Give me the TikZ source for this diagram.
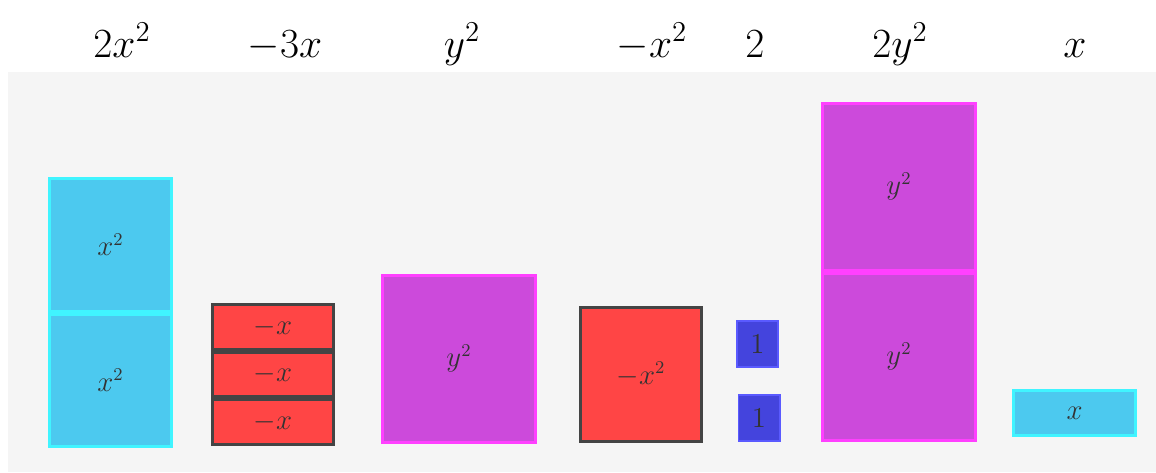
\documentclass[tikz,border=0pt]{standalone}
\usepackage{amsmath}
\usepackage{tikz}
\usetikzlibrary{positioning}

\definecolor{panelgray}{HTML}{F5F5F5}
\definecolor{posfill}{HTML}{4CC9EF}
\definecolor{posline}{HTML}{40F4FF}
\definecolor{negfill}{HTML}{FF4545}
\definecolor{negline}{HTML}{444444}
\definecolor{yfill}{HTML}{CC4ADB}
\definecolor{yline}{HTML}{FF40FF}
\definecolor{onefill}{HTML}{4444DD}
\definecolor{oneline}{HTML}{5A5AFF}
\definecolor{tiletext}{HTML}{333333}

\begin{document}
\begin{tikzpicture}[x=0.5pt, y=-0.5pt,
  tile/.style={draw,line width=1.5pt,inner sep=0pt,text=tiletext,
    font=\fontsize{13.5}{14}\selectfont},
  xsq/.style={tile,fill=posfill,draw=posline,minimum width=61pt,minimum height=66.25pt},
  negx/.style={tile,fill=negfill,draw=negline,minimum width=60.5pt,minimum height=22.3pt},
  ysq/.style={tile,fill=yfill,draw=yline,minimum width=76.5pt,minimum height=83.5pt},
  negxsq/.style={tile,fill=negfill,draw=negline,minimum width=60.5pt,minimum height=67pt},
  one/.style={tile,fill=onefill,draw=oneline,line width=0.8pt,minimum width=20.7pt,minimum height=23.2pt},
  xbar/.style={tile,fill=posfill,draw=posline,minimum width=61pt,minimum height=22.5pt},
  term/.style={anchor=base,font=\fontsize{22}{24}\selectfont}]
  \useasboundingbox (0,0) rectangle (1156,472);
  \fill[panelgray] (8,72) rectangle (1156,472);

  % top row of terms
  \node[term](t1) at (122,57){$2x^2$};
  \node[term](t2) at (285,57){$-3x$};
  \node[term](t3) at (462,57){$y^2$};
  \node[term](t4) at (652,57){$-x^2$};
  \node[term](t5) at (755,57){$2$};
  \node[term](t6) at (900,57){$2y^2$};
  \node[term](t7) at (1075,57){$x$};

  % 2x^2
  \node[xsq](xa) at (110.5,380.25){$x^2$};
  \node[xsq,above=0pt of xa](xb){$x^2$};
  % -3x
  \node[negx](na) at (273,422){$-x$};
  \node[negx,above=0pt of na](nb){$-x$};
  \node[negx,above=0pt of nb](nc){$-x$};
  % y^2
  \node[ysq](ya) at (459,358.5){$y^2$};
  % -x^2
  \node[negxsq](nsq) at (641,374.5){$-x^2$};
  % 2
  \node[one](oa) at (757.5,344){$1$};
  \node[one](ob) at (759,418){$1$};
  % 2y^2
  \node[ysq](yb) at (899,356.5){$y^2$};
  \node[ysq,above=0pt of yb](yc){$y^2$};
  % x
  \node[xbar](xs) at (1074.5,413){$x$};
\end{tikzpicture}
\end{document}
